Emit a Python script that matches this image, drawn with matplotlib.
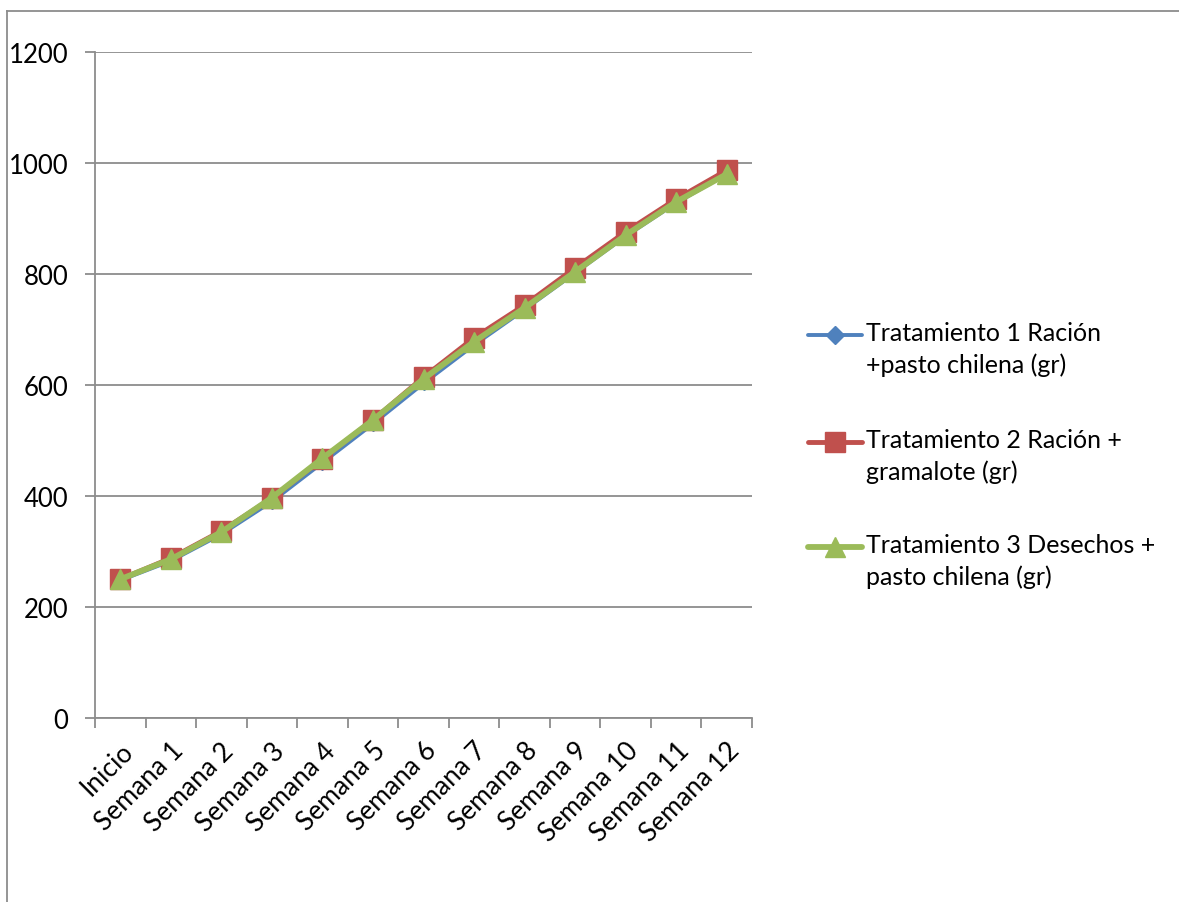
import matplotlib.pyplot as plt
from matplotlib.lines import Line2D

plt.rcParams['font.family'] = ['Lato', 'DejaVu Sans']

semanas = ["Inicio", "Semana 1", "Semana 2", "Semana 3", "Semana 4", "Semana 5",
           "Semana 6", "Semana 7", "Semana 8", "Semana 9", "Semana 10",
           "Semana 11", "Semana 12"]

trat1 = [248, 283, 331, 390, 460, 530, 603, 672, 736, 802, 868, 928, 980]
trat2 = [250, 288, 337, 396, 467, 537, 614, 685, 744, 811, 876, 935, 987]
trat3 = [250, 286, 335, 397, 468, 537, 611, 678, 739, 804, 870, 930, 980]

nombres = ["Tratamiento 1 Ración\n+pasto chilena (gr)",
           "Tratamiento 2 Ración +\ngramalote (gr)",
           "Tratamiento 3 Desechos +\npasto chilena (gr)"]
colores = ["#4F81BD", "#C0504D", "#9BBB59"]

W, H = 1179, 903
fig = plt.figure(figsize=(W / 100, H / 100), dpi=100)
ax = fig.add_axes([95 / W, 1 - 719 / H, 657 / W, 666 / H])

x = list(range(len(semanas)))
estilos = [dict(lw=2.8, marker="D", ms=7),
           dict(lw=3.5, marker="s", ms=15),
           dict(lw=4.2, marker="^", ms=15)]
for i, serie in enumerate([trat1, trat2, trat3]):
    ax.plot(x, serie, color=colores[i], zorder=3 + i, **estilos[i])

ax.set_xlim(-0.5, len(semanas) - 0.5)
ax.set_ylim(0, 1200)
ax.set_yticks(range(0, 1201, 200))
ax.yaxis.grid(True, color="#8c8c8c", lw=1.3)
ax.set_axisbelow(True)

# category ticks sit between the points, labels at the points
ax.set_xticks([i - 0.5 for i in range(len(semanas) + 1)])
ax.set_xticklabels([])
ax.set_xticks(x, minor=True)
ax.set_xticklabels(semanas, minor=True, rotation=45, ha="right",
                   rotation_mode="anchor", fontsize=19)
ax.tick_params(axis="x", which="minor", length=0, pad=14)
ax.tick_params(axis="x", which="major", length=7, width=1.3, color="#8c8c8c")
ax.tick_params(axis="y", length=7, width=1.3, color="#8c8c8c", labelsize=18.5, pad=12)

for s in ["top", "right"]:
    ax.spines[s].set_visible(False)
for s in ["left", "bottom"]:
    ax.spines[s].set_color("#8c8c8c")
    ax.spines[s].set_linewidth(1.3)

# legend drawn by hand: handle on the first line of each two-line label
for i, (nombre, y0) in enumerate(zip(nombres, [336, 443, 548])):
    yf = 1 - y0 / H
    ms = {0: 9, 1: 15, 2: 14}[i]
    fig.add_artist(Line2D([808 / W, 862 / W], [yf, yf], color=colores[i],
                          lw=estilos[i]["lw"], solid_capstyle="round"))
    fig.add_artist(Line2D([835 / W], [yf], color=colores[i],
                          marker=estilos[i]["marker"], ms=ms, lw=0))
    fig.text(866 / W, 1 - (y0 - 14) / H, nombre, fontsize=18, va="top",
             ha="left", linespacing=1.45)

# chart border
fig.add_artist(Line2D([7 / W, 7 / W], [0, 1 - 12 / H], color="#8c8c8c", lw=1.3))
fig.add_artist(Line2D([7 / W, 1], [1 - 12 / H, 1 - 12 / H], color="#8c8c8c", lw=1.3))

fig.savefig("out.png", dpi=100)
